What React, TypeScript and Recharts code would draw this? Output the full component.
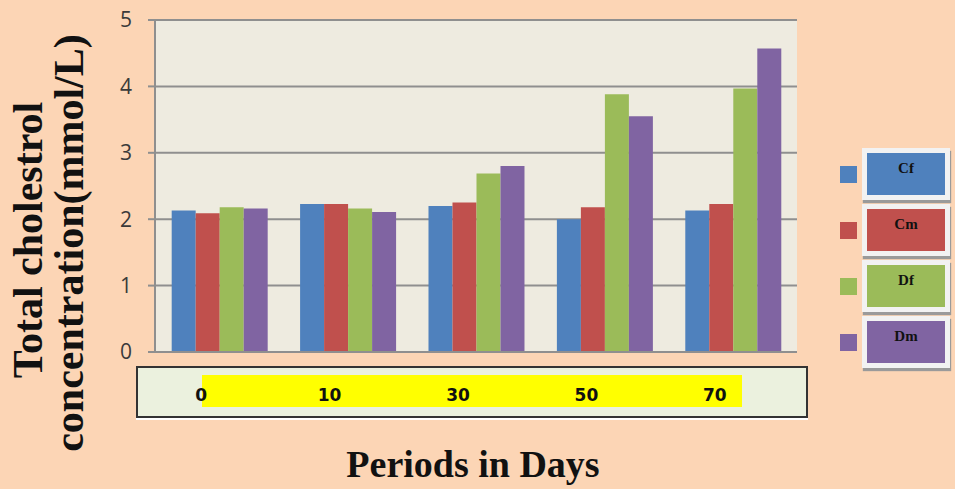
import React from 'react';
import { BarChart, Bar, XAxis, YAxis, CartesianGrid, Legend, Label } from 'recharts';

const periods = ['0', '10', '30', '50', '70'];
const cf = [2.13, 2.23, 2.2, 2.0, 2.13];
const cm = [2.09, 2.23, 2.25, 2.18, 2.23];
const df = [2.18, 2.16, 2.69, 3.88, 3.97];
const dm = [2.16, 2.11, 2.8, 3.55, 4.57];
const yTicks = [0, 1, 2, 3, 4, 5];

const data = periods.map((p, i) => ({ period: p, Cf: cf[i], Cm: cm[i], Df: df[i], Dm: dm[i] }));

const serif = '"Liberation Serif", "Times New Roman", serif';

function PeriodTick({ x, y, payload }: any) {
  return (
    <text
      x={x - 18}
      y={y + 47}
      textAnchor="middle"
      fontFamily='"DejaVu Sans", Verdana, sans-serif'
      fontWeight="bold"
      fontSize={17}
      fill="#111"
    >
      {payload.value}
    </text>
  );
}

function LegendBoxes({ payload }: any) {
  return (
    <div>
      {(payload || []).map((entry: any) => (
        <div key={entry.value} style={{ display: 'flex', alignItems: 'center', height: 56 }}>
          <div style={{ width: 17, height: 17, background: entry.color, marginRight: 5 }} />
          <div
            style={{
              background: '#f2f2f2',
              padding: 5,
              boxShadow: '1px 3px 1px #9a9a9a',
            }}
          >
            <div
              style={{
                width: 78,
                height: 42,
                background: entry.color,
                color: '#111',
                fontFamily: serif,
                fontWeight: 'bold',
                fontSize: 15,
                textAlign: 'center',
                lineHeight: '30px',
              }}
            >
              {entry.value}
            </div>
          </div>
        </div>
      ))}
    </div>
  );
}

export default function App() {
  return (
    <div style={{ position: 'absolute', left: 0, top: 0, width: 955, height: 489, background: '#FCD5B5' }}>
      {/* category box under the plot */}
      <div
        style={{
          position: 'absolute',
          left: 136,
          top: 366,
          width: 668,
          height: 48,
          background: '#EBF1DE',
          border: '2px solid #333',
          boxShadow: '0 2px 0 #fff',
        }}
      />
      <div style={{ position: 'absolute', left: 202, top: 375, width: 540, height: 32, background: '#FFFF00' }} />
      <div style={{ position: 'absolute', left: 0, top: 0 }}>
        <BarChart
          width={955}
          height={489}
          data={data}
          margin={{ top: 20, right: 46, left: 5, bottom: 0 }}
          barCategoryGap="13%"
          barGap={0}
        >
          <CartesianGrid vertical={false} stroke="#8f8f8f" strokeWidth={2} fill="#EEEBE0" />
          <XAxis
            dataKey="period"
            height={137}
            axisLine={{ stroke: '#8f8f8f', strokeWidth: 2 }}
            tickLine={false}
            tickSize={0}
            tick={<PeriodTick />}
          >
            <Label
              content={() => (
                <text x={473} y={477} textAnchor="middle" fontFamily={serif} fontWeight="bold" fontSize={38} fill="#111">
                  Periods in Days
                </text>
              )}
            />
          </XAxis>
          <YAxis
            width={150}
            domain={[0, 5]}
            ticks={yTicks}
            interval={0}
            axisLine={{ stroke: '#8f8f8f', strokeWidth: 2 }}
            tickLine={{ stroke: '#8f8f8f', strokeWidth: 2 }}
            tickSize={7}
            tickMargin={16}
            tick={{ fill: '#3a3a3a', fontSize: 21, fontFamily: '"Open Sans", "Liberation Sans", sans-serif' }}
          >
            <Label
              content={() => (
                <g fontFamily={serif} fontWeight="bold" fontSize={42} fill="#111" textAnchor="middle">
                  <text x={42} y={240} transform="rotate(-90 42 240)">Total cholestrol</text>
                  <text x={83} y={243} transform="rotate(-90 83 243)">concentration(mmol/L)</text>
                </g>
              )}
            />
          </YAxis>
          <Legend
            layout="vertical"
            align="right"
            verticalAlign="top"
            wrapperStyle={{ left: 840, top: 146, width: 112 }}
            content={<LegendBoxes />}
          />
          <Bar dataKey="Cf" fill="#4F81BD" isAnimationActive={false} />
          <Bar dataKey="Cm" fill="#C0504D" isAnimationActive={false} />
          <Bar dataKey="Df" fill="#9BBB59" isAnimationActive={false} />
          <Bar dataKey="Dm" fill="#8064A2" isAnimationActive={false} />
        </BarChart>
      </div>
    </div>
  );
}
